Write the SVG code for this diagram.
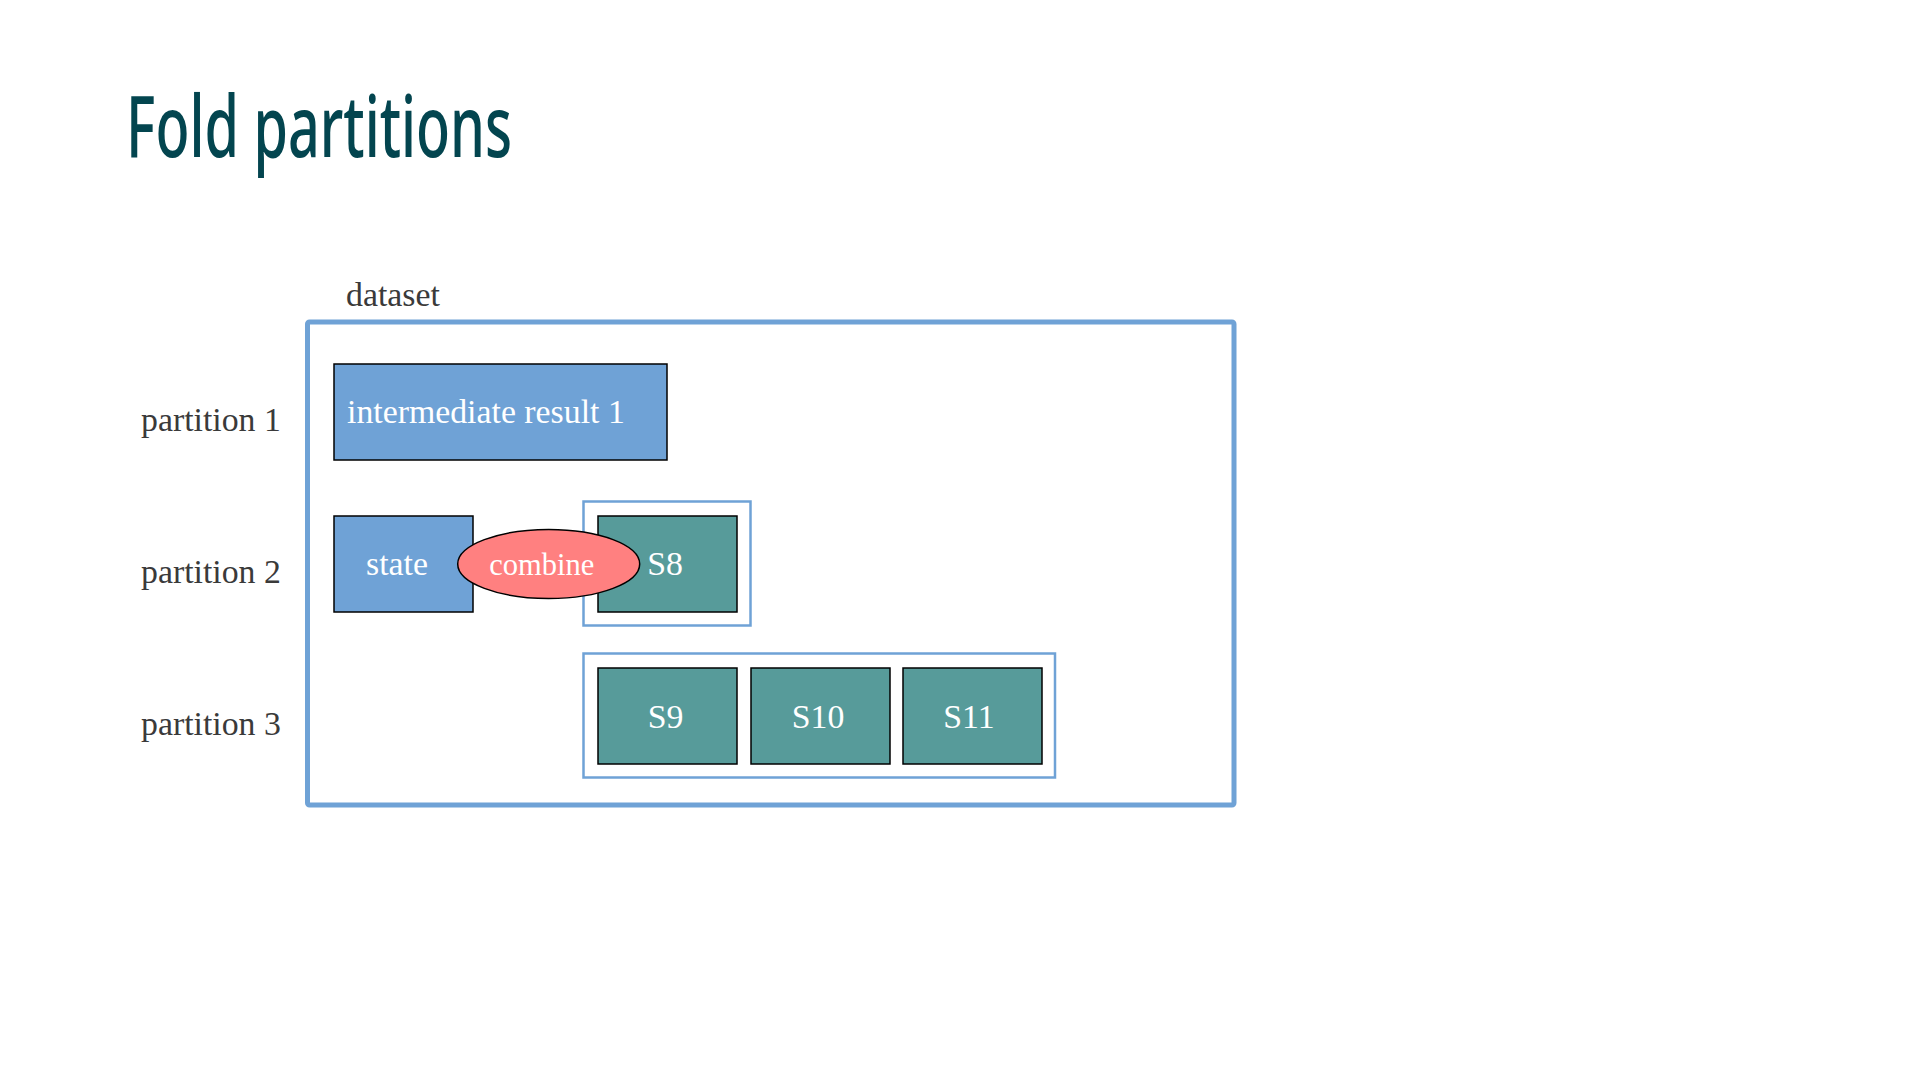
<svg xmlns="http://www.w3.org/2000/svg" width="1920" height="1080" viewBox="0 0 1920 1080">
  <style>
    .title { font-family: "Noto Sans", "Open Sans", sans-serif; font-weight: 500; font-size: 86px; fill: #03454f; }
    .label { font-family: "Liberation Serif", "Times New Roman", serif; font-size: 33.8px; fill: #3a3a3a; }
    .inner { font-family: "Liberation Serif", "Times New Roman", serif; font-size: 33.8px; fill: #ffffff; }
    .small { font-size: 30.5px; }
    .mid { text-anchor: middle; }
    .frame { fill: #ffffff; stroke: #6fa2d6; stroke-width: 5; }
    .group { fill: none; stroke: #6fa2d6; stroke-width: 2.5; }
    .acc { fill: #6fa2d6; stroke: #000000; stroke-width: 1.5; }
    .seg { fill: #579b9a; stroke: #000000; stroke-width: 1.5; }
    .op { fill: #ff8080; stroke: #000000; stroke-width: 1.5; }
  </style>

  <rect width="1920" height="1080" fill="#ffffff"/>

  <!-- slide heading -->
  <text class="title" x="126" y="157" textLength="386" lengthAdjust="spacingAndGlyphs">Fold partitions</text>

  <!-- dataset container -->
  <g id="dataset">
    <text class="label" x="346" y="306">dataset</text>
    <rect class="frame" x="307.5" y="322" width="926.5" height="483" rx="2"/>
  </g>

  <!-- row labels -->
  <g id="partition-labels">
    <text class="label" x="141" y="431">partition 1</text>
    <text class="label" x="141" y="583">partition 2</text>
    <text class="label" x="141" y="735">partition 3</text>
  </g>

  <!-- partition 1 -->
  <g id="intermediate-result-1">
    <rect class="acc" x="334" y="364" width="333" height="96"/>
    <text class="inner" x="347" y="423">intermediate result 1</text>
  </g>

  <!-- partition 2 -->
  <g id="state">
    <rect class="acc" x="334" y="516" width="139" height="96"/>
    <text class="inner mid" x="397" y="575">state</text>
  </g>
  <g id="partition-2-remaining">
    <rect class="group" x="583.5" y="501.5" width="167" height="124"/>
  </g>
  <g id="s8">
    <rect class="seg" x="598" y="516" width="139" height="96"/>
    <text class="inner mid" x="665" y="575">S8</text>
  </g>
  <g id="combine">
    <ellipse class="op" cx="548.7" cy="564" rx="91" ry="34.5"/>
    <text class="inner small mid" x="541.7" y="575">combine</text>
  </g>

  <!-- partition 3 -->
  <g id="partition-3-remaining">
    <rect class="group" x="583.5" y="653.5" width="471.5" height="124"/>
  </g>
  <g id="s9">
    <rect class="seg" x="598" y="668" width="139" height="96"/>
    <text class="inner mid" x="665.5" y="728">S9</text>
  </g>
  <g id="s10">
    <rect class="seg" x="751" y="668" width="139" height="96"/>
    <text class="inner mid" x="818" y="728">S10</text>
  </g>
  <g id="s11">
    <rect class="seg" x="903" y="668" width="139" height="96"/>
    <text class="inner mid" x="969" y="728">S11</text>
  </g>

  <g id="connectors"/>
</svg>
